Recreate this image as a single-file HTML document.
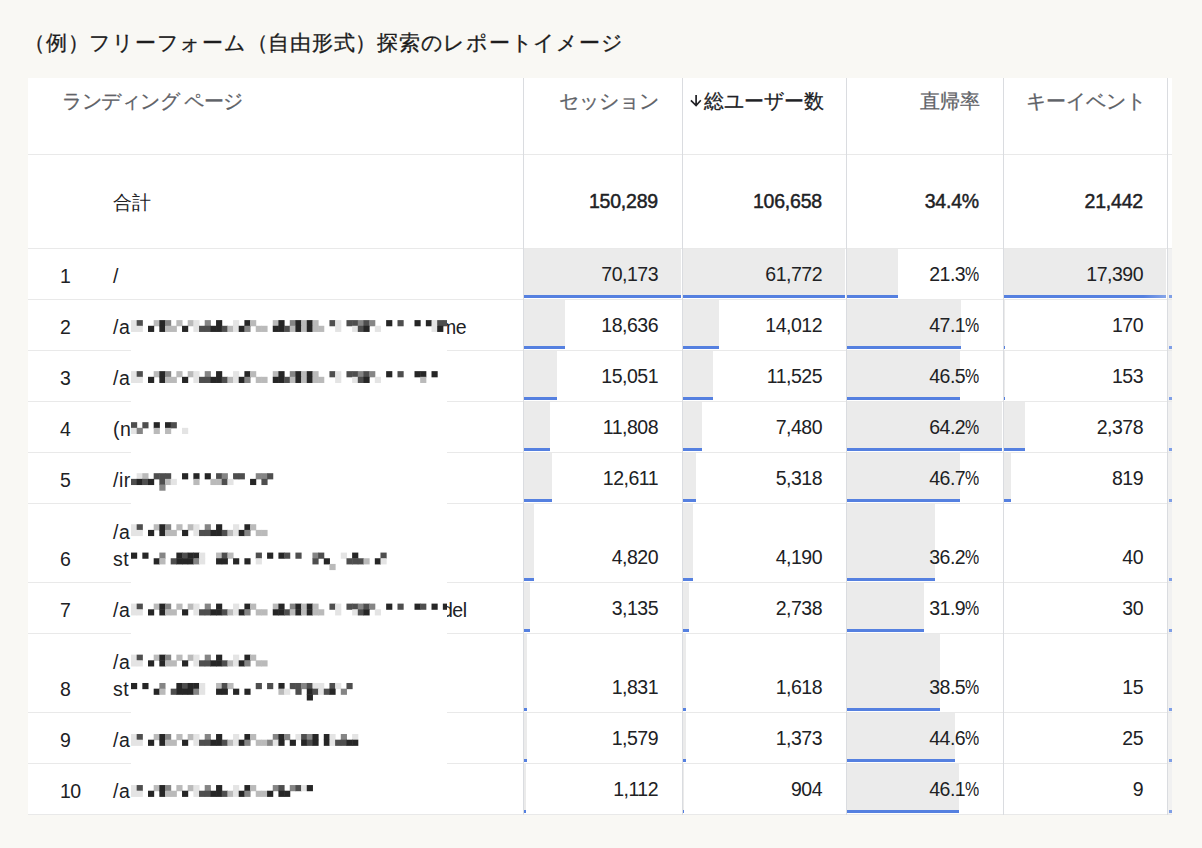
<!DOCTYPE html><html><head><meta charset="utf-8"><style>
html,body{margin:0;padding:0;}
body{width:1202px;height:848px;background:#f9f8f4;position:relative;overflow:hidden;font-family:"Liberation Sans",sans-serif;color:#202124;}
.a{position:absolute;}
.t{position:absolute;white-space:nowrap;line-height:20px;}
.title{left:24px;top:31px;font-size:21px;letter-spacing:0.75px;line-height:24px;color:#1d1d1d;-webkit-text-stroke:0.3px #1d1d1d;}
.tbl{left:28px;top:78px;width:1144px;height:737px;background:#fff;}
.hl{position:absolute;height:1px;background:#e9e9e9;}
.vl{position:absolute;width:1px;background:#dadce0;}
.hd{font-size:20px;color:#5f6368;-webkit-text-stroke:0.25px #5f6368;}
.num{font-size:19.5px;letter-spacing:-0.5px;color:#202124;text-align:right;}
.bold{font-weight:normal;font-size:19.5px;letter-spacing:-0.2px;-webkit-text-stroke:0.45px #202124;}
.bar{position:absolute;background:#ebebeb;}
.blue{position:absolute;background:#5580e0;height:3px;}
</style></head><body>

<div class="t title">（例）フリーフォーム（自由形式）探索のレポートイメージ</div>
<div class="a tbl"></div>
<div class="bar" style="left:524px;top:249px;width:157.0px;height:46px"></div>
<div class="blue" style="left:524px;top:295px;width:157.0px"></div>
<div class="bar" style="left:683px;top:249px;width:162.0px;height:46px"></div>
<div class="blue" style="left:683px;top:295px;width:162.0px"></div>
<div class="bar" style="left:847px;top:249px;width:51.1px;height:46px"></div>
<div class="blue" style="left:847px;top:295px;width:51.1px"></div>
<div class="bar" style="left:1004px;top:249px;width:162.0px;height:46px"></div>
<div class="blue" style="left:1004px;top:295px;width:162.0px;background:linear-gradient(to right,#5580e0 86%,#86a5e8)"></div>
<div class="bar" style="left:524px;top:300px;width:41.2px;height:46px"></div>
<div class="blue" style="left:524px;top:346px;width:41.2px"></div>
<div class="bar" style="left:683px;top:300px;width:36.2px;height:46px"></div>
<div class="blue" style="left:683px;top:346px;width:36.2px"></div>
<div class="bar" style="left:847px;top:300px;width:114.2px;height:46px"></div>
<div class="blue" style="left:847px;top:346px;width:114.2px"></div>
<div class="bar" style="left:1004px;top:300px;width:0.6px;height:46px"></div>
<div class="blue" style="left:1004px;top:346px;width:0.6px"></div>
<div class="bar" style="left:524px;top:351px;width:33.1px;height:46px"></div>
<div class="blue" style="left:524px;top:397px;width:33.1px"></div>
<div class="bar" style="left:683px;top:351px;width:29.6px;height:46px"></div>
<div class="blue" style="left:683px;top:397px;width:29.6px"></div>
<div class="bar" style="left:847px;top:351px;width:112.7px;height:46px"></div>
<div class="blue" style="left:847px;top:397px;width:112.7px"></div>
<div class="bar" style="left:1004px;top:351px;width:0.4px;height:46px"></div>
<div class="blue" style="left:1004px;top:397px;width:0.4px"></div>
<div class="bar" style="left:524px;top:402px;width:25.8px;height:46px"></div>
<div class="blue" style="left:524px;top:448px;width:25.8px"></div>
<div class="bar" style="left:683px;top:402px;width:18.9px;height:46px"></div>
<div class="blue" style="left:683px;top:448px;width:18.9px"></div>
<div class="bar" style="left:847px;top:402px;width:155.0px;height:46px"></div>
<div class="blue" style="left:847px;top:448px;width:155.0px"></div>
<div class="bar" style="left:1004px;top:402px;width:21.4px;height:46px"></div>
<div class="blue" style="left:1004px;top:448px;width:21.4px"></div>
<div class="bar" style="left:524px;top:453px;width:27.6px;height:46px"></div>
<div class="blue" style="left:524px;top:499px;width:27.6px"></div>
<div class="bar" style="left:683px;top:453px;width:13.1px;height:46px"></div>
<div class="blue" style="left:683px;top:499px;width:13.1px"></div>
<div class="bar" style="left:847px;top:453px;width:113.2px;height:46px"></div>
<div class="blue" style="left:847px;top:499px;width:113.2px"></div>
<div class="bar" style="left:1004px;top:453px;width:6.7px;height:46px"></div>
<div class="blue" style="left:1004px;top:499px;width:6.7px"></div>
<div class="bar" style="left:524px;top:504px;width:9.9px;height:74px"></div>
<div class="blue" style="left:524px;top:578px;width:9.9px"></div>
<div class="bar" style="left:683px;top:504px;width:10.1px;height:74px"></div>
<div class="blue" style="left:683px;top:578px;width:10.1px"></div>
<div class="bar" style="left:847px;top:504px;width:87.5px;height:74px"></div>
<div class="blue" style="left:847px;top:578px;width:87.5px"></div>
<div class="bar" style="left:1004px;top:504px;width:-0.6px;height:74px"></div>
<div class="blue" style="left:1004px;top:578px;width:-0.6px"></div>
<div class="bar" style="left:524px;top:583px;width:6.1px;height:46px"></div>
<div class="blue" style="left:524px;top:629px;width:6.1px"></div>
<div class="bar" style="left:683px;top:583px;width:6.3px;height:46px"></div>
<div class="blue" style="left:683px;top:629px;width:6.3px"></div>
<div class="bar" style="left:847px;top:583px;width:77.0px;height:46px"></div>
<div class="blue" style="left:847px;top:629px;width:77.0px"></div>
<div class="bar" style="left:1004px;top:583px;width:-0.7px;height:46px"></div>
<div class="blue" style="left:1004px;top:629px;width:-0.7px"></div>
<div class="bar" style="left:524px;top:634px;width:3.1px;height:74px"></div>
<div class="blue" style="left:524px;top:708px;width:3.1px"></div>
<div class="bar" style="left:683px;top:634px;width:3.3px;height:74px"></div>
<div class="blue" style="left:683px;top:708px;width:3.3px"></div>
<div class="bar" style="left:847px;top:634px;width:93.2px;height:74px"></div>
<div class="blue" style="left:847px;top:708px;width:93.2px"></div>
<div class="bar" style="left:1004px;top:634px;width:-0.9px;height:74px"></div>
<div class="blue" style="left:1004px;top:708px;width:-0.9px"></div>
<div class="bar" style="left:524px;top:713px;width:2.6px;height:46px"></div>
<div class="blue" style="left:524px;top:759px;width:2.6px"></div>
<div class="bar" style="left:683px;top:713px;width:2.6px;height:46px"></div>
<div class="blue" style="left:683px;top:759px;width:2.6px"></div>
<div class="bar" style="left:847px;top:713px;width:108.1px;height:46px"></div>
<div class="blue" style="left:847px;top:759px;width:108.1px"></div>
<div class="bar" style="left:1004px;top:713px;width:-0.8px;height:46px"></div>
<div class="blue" style="left:1004px;top:759px;width:-0.8px"></div>
<div class="bar" style="left:524px;top:764px;width:1.5px;height:46px"></div>
<div class="blue" style="left:524px;top:810px;width:1.5px"></div>
<div class="bar" style="left:683px;top:764px;width:1.4px;height:46px"></div>
<div class="blue" style="left:683px;top:810px;width:1.4px"></div>
<div class="bar" style="left:847px;top:764px;width:111.7px;height:46px"></div>
<div class="blue" style="left:847px;top:810px;width:111.7px"></div>
<div class="bar" style="left:1004px;top:764px;width:-0.9px;height:46px"></div>
<div class="blue" style="left:1004px;top:810px;width:-0.9px"></div>
<div class="a" style="left:1168px;top:248px;width:4px;height:566px;background:#f1f1f1"></div>
<div class="blue" style="left:1169px;top:295px;width:3px;background:#7f9fe6"></div>
<div class="blue" style="left:1169px;top:346px;width:3px;background:#7f9fe6"></div>
<div class="blue" style="left:1169px;top:397px;width:3px;background:#7f9fe6"></div>
<div class="blue" style="left:1169px;top:448px;width:3px;background:#7f9fe6"></div>
<div class="blue" style="left:1169px;top:499px;width:3px;background:#7f9fe6"></div>
<div class="blue" style="left:1169px;top:578px;width:3px;background:#7f9fe6"></div>
<div class="blue" style="left:1169px;top:629px;width:3px;background:#7f9fe6"></div>
<div class="blue" style="left:1169px;top:708px;width:3px;background:#7f9fe6"></div>
<div class="blue" style="left:1169px;top:759px;width:3px;background:#7f9fe6"></div>
<div class="blue" style="left:1169px;top:810px;width:3px;background:#7f9fe6"></div>
<div class="hl" style="left:28px;top:154px;width:1144px"></div>
<div class="hl" style="left:28px;top:248px;width:1144px"></div>
<div class="hl" style="left:28px;top:299px;width:1144px"></div>
<div class="hl" style="left:28px;top:350px;width:1144px"></div>
<div class="hl" style="left:28px;top:401px;width:1144px"></div>
<div class="hl" style="left:28px;top:452px;width:1144px"></div>
<div class="hl" style="left:28px;top:503px;width:1144px"></div>
<div class="hl" style="left:28px;top:582px;width:1144px"></div>
<div class="hl" style="left:28px;top:633px;width:1144px"></div>
<div class="hl" style="left:28px;top:712px;width:1144px"></div>
<div class="hl" style="left:28px;top:763px;width:1144px"></div>
<div class="hl" style="left:28px;top:814px;width:1144px"></div>
<div class="vl" style="left:523px;top:78px;height:737px"></div>
<div class="vl" style="left:682px;top:78px;height:737px"></div>
<div class="vl" style="left:846px;top:78px;height:737px"></div>
<div class="vl" style="left:1003px;top:78px;height:737px"></div>
<div class="vl" style="left:1167px;top:78px;height:737px"></div>
<div class="t hd" style="left:62px;top:91px;letter-spacing:-0.5px">ランディング ページ</div>
<div class="t hd" style="right:543px;top:91px">セッション</div>
<svg class="a" style="left:688px;top:92px" width="16" height="18" viewBox="0 0 16 18"><path d="M8.1 3.1V13.5M2.9 8.3L8.1 13.5L12.8 8.3" fill="none" stroke="#202124" stroke-width="1.7"/></svg>
<div class="t hd" style="left:704px;top:91px;color:#202124;-webkit-text-stroke:0.25px #202124">総ユーザー数</div>
<div class="t hd" style="right:222px;top:91px">直帰率</div>
<div class="t hd" style="right:56px;top:91px">キーイベント</div>
<div class="t" style="left:113px;top:193px;font-size:19px">合計</div>
<div class="t num bold" style="right:544px;top:191px">150,289</div>
<div class="t num bold" style="right:380px;top:191px">106,658</div>
<div class="t num bold" style="right:223px;top:191px">34.4%</div>
<div class="t num bold" style="right:59px;top:191px">21,442</div>
<div class="t num" style="left:60px;top:265.5px;text-align:left">1</div>
<div class="t num" style="left:113px;top:265.5px;text-align:left;letter-spacing:0.5px">/</div>
<div class="t num" style="right:544px;top:263.5px">70,173</div>
<div class="t num" style="right:380px;top:263.5px">61,772</div>
<div class="t num" style="right:223px;top:263.5px">21.3<span style="display:inline-block;transform:scaleX(0.82);transform-origin:100% 50%;margin-left:-3px">%</span></div>
<div class="t num" style="right:59px;top:263.5px">17,390</div>
<div class="t num" style="left:60px;top:316.5px;text-align:left">2</div>
<div class="t num" style="left:113px;top:316.5px;text-align:left;letter-spacing:0.5px">/a</div>
<div class="t num" style="right:544px;top:314.5px">18,636</div>
<div class="t num" style="right:380px;top:314.5px">14,012</div>
<div class="t num" style="right:223px;top:314.5px">47.1<span style="display:inline-block;transform:scaleX(0.82);transform-origin:100% 50%;margin-left:-3px">%</span></div>
<div class="t num" style="right:59px;top:314.5px">170</div>
<div class="t num" style="left:60px;top:367.5px;text-align:left">3</div>
<div class="t num" style="left:113px;top:367.5px;text-align:left;letter-spacing:0.5px">/a</div>
<div class="t num" style="right:544px;top:365.5px">15,051</div>
<div class="t num" style="right:380px;top:365.5px">11,525</div>
<div class="t num" style="right:223px;top:365.5px">46.5<span style="display:inline-block;transform:scaleX(0.82);transform-origin:100% 50%;margin-left:-3px">%</span></div>
<div class="t num" style="right:59px;top:365.5px">153</div>
<div class="t num" style="left:60px;top:418.5px;text-align:left">4</div>
<div class="t num" style="left:113px;top:418.5px;text-align:left;letter-spacing:0.5px">(n</div>
<div class="t num" style="right:544px;top:416.5px">11,808</div>
<div class="t num" style="right:380px;top:416.5px">7,480</div>
<div class="t num" style="right:223px;top:416.5px">64.2<span style="display:inline-block;transform:scaleX(0.82);transform-origin:100% 50%;margin-left:-3px">%</span></div>
<div class="t num" style="right:59px;top:416.5px">2,378</div>
<div class="t num" style="left:60px;top:469.5px;text-align:left">5</div>
<div class="t num" style="left:113px;top:469.5px;text-align:left;letter-spacing:0.5px">/ir</div>
<div class="t num" style="right:544px;top:467.5px">12,611</div>
<div class="t num" style="right:380px;top:467.5px">5,318</div>
<div class="t num" style="right:223px;top:467.5px">46.7<span style="display:inline-block;transform:scaleX(0.82);transform-origin:100% 50%;margin-left:-3px">%</span></div>
<div class="t num" style="right:59px;top:467.5px">819</div>
<div class="t num" style="left:60px;top:548.5px;text-align:left">6</div>
<div class="t num" style="left:113px;top:548.5px;text-align:left;letter-spacing:0.5px">st</div>
<div class="t num" style="right:544px;top:546.5px">4,820</div>
<div class="t num" style="right:380px;top:546.5px">4,190</div>
<div class="t num" style="right:223px;top:546.5px">36.2<span style="display:inline-block;transform:scaleX(0.82);transform-origin:100% 50%;margin-left:-3px">%</span></div>
<div class="t num" style="right:59px;top:546.5px">40</div>
<div class="t num" style="left:60px;top:599.5px;text-align:left">7</div>
<div class="t num" style="left:113px;top:599.5px;text-align:left;letter-spacing:0.5px">/a</div>
<div class="t num" style="right:544px;top:597.5px">3,135</div>
<div class="t num" style="right:380px;top:597.5px">2,738</div>
<div class="t num" style="right:223px;top:597.5px">31.9<span style="display:inline-block;transform:scaleX(0.82);transform-origin:100% 50%;margin-left:-3px">%</span></div>
<div class="t num" style="right:59px;top:597.5px">30</div>
<div class="t num" style="left:60px;top:678.5px;text-align:left">8</div>
<div class="t num" style="left:113px;top:678.5px;text-align:left;letter-spacing:0.5px">st</div>
<div class="t num" style="right:544px;top:676.5px">1,831</div>
<div class="t num" style="right:380px;top:676.5px">1,618</div>
<div class="t num" style="right:223px;top:676.5px">38.5<span style="display:inline-block;transform:scaleX(0.82);transform-origin:100% 50%;margin-left:-3px">%</span></div>
<div class="t num" style="right:59px;top:676.5px">15</div>
<div class="t num" style="left:60px;top:729.5px;text-align:left">9</div>
<div class="t num" style="left:113px;top:729.5px;text-align:left;letter-spacing:0.5px">/a</div>
<div class="t num" style="right:544px;top:727.5px">1,579</div>
<div class="t num" style="right:380px;top:727.5px">1,373</div>
<div class="t num" style="right:223px;top:727.5px">44.6<span style="display:inline-block;transform:scaleX(0.82);transform-origin:100% 50%;margin-left:-3px">%</span></div>
<div class="t num" style="right:59px;top:727.5px">25</div>
<div class="t num" style="left:60px;top:780.5px;text-align:left">10</div>
<div class="t num" style="left:113px;top:780.5px;text-align:left;letter-spacing:0.5px">/a</div>
<div class="t num" style="right:544px;top:778.5px">1,112</div>
<div class="t num" style="right:380px;top:778.5px">904</div>
<div class="t num" style="right:223px;top:778.5px">46.1<span style="display:inline-block;transform:scaleX(0.82);transform-origin:100% 50%;margin-left:-3px">%</span></div>
<div class="t num" style="right:59px;top:778.5px">9</div>
<div class="t num" style="left:113px;top:521.5px;text-align:left;letter-spacing:0.5px">/a</div>
<div class="t num" style="left:113px;top:651.5px;text-align:left;letter-spacing:0.5px">/a</div>
<div class="t num" style="left:440px;top:316.5px;text-align:left">me</div>
<div class="t num" style="left:442px;top:599.5px;text-align:left">del</div>
<svg class="a" style="left:131px;top:301px" width="316" height="512" viewBox="0 0 316 512"><rect width="316" height="512" fill="#fff"/><rect x="0.00" y="19.11" width="6.17" height="6.17" fill="#e4e4e4"/><rect x="5.67" y="19.11" width="6.17" height="6.17" fill="#4e4e4e"/><rect x="22.68" y="19.11" width="6.17" height="6.17" fill="#bababa"/><rect x="28.35" y="19.11" width="6.17" height="6.17" fill="#262626"/><rect x="34.02" y="19.11" width="6.17" height="6.17" fill="#858585"/><rect x="45.36" y="19.11" width="6.17" height="6.17" fill="#bababa"/><rect x="56.70" y="19.11" width="6.17" height="6.17" fill="#bababa"/><rect x="62.37" y="19.11" width="6.17" height="6.17" fill="#e4e4e4"/><rect x="73.71" y="19.11" width="6.17" height="6.17" fill="#858585"/><rect x="85.05" y="19.11" width="6.17" height="6.17" fill="#262626"/><rect x="102.06" y="19.11" width="6.17" height="6.17" fill="#e4e4e4"/><rect x="113.40" y="19.11" width="6.17" height="6.17" fill="#262626"/><rect x="119.07" y="19.11" width="6.17" height="6.17" fill="#bababa"/><rect x="141.75" y="19.11" width="6.17" height="6.17" fill="#bababa"/><rect x="147.42" y="19.11" width="6.17" height="6.17" fill="#262626"/><rect x="158.76" y="19.11" width="6.17" height="6.17" fill="#858585"/><rect x="164.43" y="19.11" width="6.17" height="6.17" fill="#262626"/><rect x="170.10" y="19.11" width="6.17" height="6.17" fill="#bababa"/><rect x="175.77" y="19.11" width="6.17" height="6.17" fill="#262626"/><rect x="181.44" y="19.11" width="6.17" height="6.17" fill="#bababa"/><rect x="198.45" y="19.11" width="6.17" height="6.17" fill="#4e4e4e"/><rect x="204.12" y="19.11" width="6.17" height="6.17" fill="#e4e4e4"/><rect x="215.46" y="19.11" width="6.17" height="6.17" fill="#4e4e4e"/><rect x="221.13" y="19.11" width="6.17" height="6.17" fill="#4e4e4e"/><rect x="226.80" y="19.11" width="6.17" height="6.17" fill="#858585"/><rect x="232.47" y="19.11" width="6.17" height="6.17" fill="#4e4e4e"/><rect x="238.14" y="19.11" width="6.17" height="6.17" fill="#858585"/><rect x="255.15" y="19.11" width="6.17" height="6.17" fill="#262626"/><rect x="266.49" y="19.11" width="6.17" height="6.17" fill="#4e4e4e"/><rect x="283.50" y="19.11" width="6.17" height="6.17" fill="#262626"/><rect x="294.84" y="19.11" width="6.17" height="6.17" fill="#262626"/><rect x="300.51" y="19.11" width="6.17" height="6.17" fill="#e4e4e4"/><rect x="306.18" y="19.11" width="6.17" height="6.17" fill="#4e4e4e"/><rect x="311.85" y="19.11" width="6.17" height="6.17" fill="#4e4e4e"/><rect x="0.00" y="24.78" width="6.17" height="6.17" fill="#e4e4e4"/><rect x="5.67" y="24.78" width="6.17" height="6.17" fill="#e4e4e4"/><rect x="17.01" y="24.78" width="6.17" height="6.17" fill="#262626"/><rect x="28.35" y="24.78" width="6.17" height="6.17" fill="#262626"/><rect x="34.02" y="24.78" width="6.17" height="6.17" fill="#bababa"/><rect x="39.69" y="24.78" width="6.17" height="6.17" fill="#bababa"/><rect x="51.03" y="24.78" width="6.17" height="6.17" fill="#262626"/><rect x="62.37" y="24.78" width="6.17" height="6.17" fill="#e4e4e4"/><rect x="68.04" y="24.78" width="6.17" height="6.17" fill="#4e4e4e"/><rect x="73.71" y="24.78" width="6.17" height="6.17" fill="#4e4e4e"/><rect x="79.38" y="24.78" width="6.17" height="6.17" fill="#262626"/><rect x="85.05" y="24.78" width="6.17" height="6.17" fill="#262626"/><rect x="90.72" y="24.78" width="6.17" height="6.17" fill="#4e4e4e"/><rect x="96.39" y="24.78" width="6.17" height="6.17" fill="#bababa"/><rect x="102.06" y="24.78" width="6.17" height="6.17" fill="#e4e4e4"/><rect x="107.73" y="24.78" width="6.17" height="6.17" fill="#262626"/><rect x="113.40" y="24.78" width="6.17" height="6.17" fill="#858585"/><rect x="124.74" y="24.78" width="6.17" height="6.17" fill="#bababa"/><rect x="130.41" y="24.78" width="6.17" height="6.17" fill="#bababa"/><rect x="141.75" y="24.78" width="6.17" height="6.17" fill="#262626"/><rect x="147.42" y="24.78" width="6.17" height="6.17" fill="#262626"/><rect x="153.09" y="24.78" width="6.17" height="6.17" fill="#4e4e4e"/><rect x="158.76" y="24.78" width="6.17" height="6.17" fill="#bababa"/><rect x="164.43" y="24.78" width="6.17" height="6.17" fill="#262626"/><rect x="170.10" y="24.78" width="6.17" height="6.17" fill="#bababa"/><rect x="175.77" y="24.78" width="6.17" height="6.17" fill="#262626"/><rect x="181.44" y="24.78" width="6.17" height="6.17" fill="#bababa"/><rect x="187.11" y="24.78" width="6.17" height="6.17" fill="#bababa"/><rect x="204.12" y="24.78" width="6.17" height="6.17" fill="#e4e4e4"/><rect x="221.13" y="24.78" width="6.17" height="6.17" fill="#e4e4e4"/><rect x="226.80" y="24.78" width="6.17" height="6.17" fill="#4e4e4e"/><rect x="232.47" y="24.78" width="6.17" height="6.17" fill="#262626"/><rect x="243.81" y="24.78" width="6.17" height="6.17" fill="#e4e4e4"/><rect x="300.51" y="24.78" width="6.17" height="6.17" fill="#e4e4e4"/><rect x="306.18" y="24.78" width="6.17" height="6.17" fill="#262626"/><rect x="0.00" y="70.14" width="6.17" height="6.17" fill="#e4e4e4"/><rect x="5.67" y="70.14" width="6.17" height="6.17" fill="#4e4e4e"/><rect x="22.68" y="70.14" width="6.17" height="6.17" fill="#bababa"/><rect x="28.35" y="70.14" width="6.17" height="6.17" fill="#262626"/><rect x="34.02" y="70.14" width="6.17" height="6.17" fill="#858585"/><rect x="45.36" y="70.14" width="6.17" height="6.17" fill="#bababa"/><rect x="56.70" y="70.14" width="6.17" height="6.17" fill="#bababa"/><rect x="62.37" y="70.14" width="6.17" height="6.17" fill="#e4e4e4"/><rect x="73.71" y="70.14" width="6.17" height="6.17" fill="#858585"/><rect x="85.05" y="70.14" width="6.17" height="6.17" fill="#262626"/><rect x="102.06" y="70.14" width="6.17" height="6.17" fill="#e4e4e4"/><rect x="113.40" y="70.14" width="6.17" height="6.17" fill="#262626"/><rect x="119.07" y="70.14" width="6.17" height="6.17" fill="#bababa"/><rect x="141.75" y="70.14" width="6.17" height="6.17" fill="#bababa"/><rect x="147.42" y="70.14" width="6.17" height="6.17" fill="#262626"/><rect x="158.76" y="70.14" width="6.17" height="6.17" fill="#858585"/><rect x="164.43" y="70.14" width="6.17" height="6.17" fill="#262626"/><rect x="170.10" y="70.14" width="6.17" height="6.17" fill="#bababa"/><rect x="175.77" y="70.14" width="6.17" height="6.17" fill="#262626"/><rect x="181.44" y="70.14" width="6.17" height="6.17" fill="#bababa"/><rect x="198.45" y="70.14" width="6.17" height="6.17" fill="#4e4e4e"/><rect x="204.12" y="70.14" width="6.17" height="6.17" fill="#e4e4e4"/><rect x="215.46" y="70.14" width="6.17" height="6.17" fill="#4e4e4e"/><rect x="221.13" y="70.14" width="6.17" height="6.17" fill="#4e4e4e"/><rect x="226.80" y="70.14" width="6.17" height="6.17" fill="#858585"/><rect x="232.47" y="70.14" width="6.17" height="6.17" fill="#4e4e4e"/><rect x="238.14" y="70.14" width="6.17" height="6.17" fill="#858585"/><rect x="255.15" y="70.14" width="6.17" height="6.17" fill="#262626"/><rect x="266.49" y="70.14" width="6.17" height="6.17" fill="#4e4e4e"/><rect x="283.50" y="70.14" width="6.17" height="6.17" fill="#262626"/><rect x="289.17" y="70.14" width="6.17" height="6.17" fill="#262626"/><rect x="300.51" y="70.14" width="6.17" height="6.17" fill="#262626"/><rect x="0.00" y="75.81" width="6.17" height="6.17" fill="#e4e4e4"/><rect x="5.67" y="75.81" width="6.17" height="6.17" fill="#e4e4e4"/><rect x="17.01" y="75.81" width="6.17" height="6.17" fill="#262626"/><rect x="28.35" y="75.81" width="6.17" height="6.17" fill="#262626"/><rect x="34.02" y="75.81" width="6.17" height="6.17" fill="#bababa"/><rect x="39.69" y="75.81" width="6.17" height="6.17" fill="#bababa"/><rect x="51.03" y="75.81" width="6.17" height="6.17" fill="#262626"/><rect x="62.37" y="75.81" width="6.17" height="6.17" fill="#e4e4e4"/><rect x="68.04" y="75.81" width="6.17" height="6.17" fill="#4e4e4e"/><rect x="73.71" y="75.81" width="6.17" height="6.17" fill="#4e4e4e"/><rect x="79.38" y="75.81" width="6.17" height="6.17" fill="#262626"/><rect x="85.05" y="75.81" width="6.17" height="6.17" fill="#262626"/><rect x="90.72" y="75.81" width="6.17" height="6.17" fill="#4e4e4e"/><rect x="96.39" y="75.81" width="6.17" height="6.17" fill="#bababa"/><rect x="102.06" y="75.81" width="6.17" height="6.17" fill="#e4e4e4"/><rect x="107.73" y="75.81" width="6.17" height="6.17" fill="#262626"/><rect x="113.40" y="75.81" width="6.17" height="6.17" fill="#858585"/><rect x="124.74" y="75.81" width="6.17" height="6.17" fill="#bababa"/><rect x="130.41" y="75.81" width="6.17" height="6.17" fill="#bababa"/><rect x="141.75" y="75.81" width="6.17" height="6.17" fill="#262626"/><rect x="147.42" y="75.81" width="6.17" height="6.17" fill="#262626"/><rect x="153.09" y="75.81" width="6.17" height="6.17" fill="#4e4e4e"/><rect x="158.76" y="75.81" width="6.17" height="6.17" fill="#bababa"/><rect x="164.43" y="75.81" width="6.17" height="6.17" fill="#262626"/><rect x="170.10" y="75.81" width="6.17" height="6.17" fill="#bababa"/><rect x="175.77" y="75.81" width="6.17" height="6.17" fill="#262626"/><rect x="181.44" y="75.81" width="6.17" height="6.17" fill="#bababa"/><rect x="187.11" y="75.81" width="6.17" height="6.17" fill="#bababa"/><rect x="204.12" y="75.81" width="6.17" height="6.17" fill="#e4e4e4"/><rect x="221.13" y="75.81" width="6.17" height="6.17" fill="#e4e4e4"/><rect x="226.80" y="75.81" width="6.17" height="6.17" fill="#4e4e4e"/><rect x="232.47" y="75.81" width="6.17" height="6.17" fill="#262626"/><rect x="243.81" y="75.81" width="6.17" height="6.17" fill="#e4e4e4"/><rect x="289.17" y="75.81" width="6.17" height="6.17" fill="#bababa"/><rect x="0.00" y="121.17" width="6.17" height="6.17" fill="#4e4e4e"/><rect x="11.34" y="121.17" width="6.17" height="6.17" fill="#4e4e4e"/><rect x="22.68" y="121.17" width="6.17" height="6.17" fill="#262626"/><rect x="34.02" y="121.17" width="6.17" height="6.17" fill="#262626"/><rect x="39.69" y="121.17" width="6.17" height="6.17" fill="#4e4e4e"/><rect x="0.00" y="126.84" width="6.17" height="6.17" fill="#e4e4e4"/><rect x="5.67" y="126.84" width="6.17" height="6.17" fill="#858585"/><rect x="22.68" y="126.84" width="6.17" height="6.17" fill="#bababa"/><rect x="34.02" y="126.84" width="6.17" height="6.17" fill="#bababa"/><rect x="51.03" y="126.84" width="6.17" height="6.17" fill="#e4e4e4"/><rect x="5.67" y="172.20" width="6.17" height="6.17" fill="#e4e4e4"/><rect x="11.34" y="172.20" width="6.17" height="6.17" fill="#bababa"/><rect x="22.68" y="172.20" width="6.17" height="6.17" fill="#4e4e4e"/><rect x="28.35" y="172.20" width="6.17" height="6.17" fill="#4e4e4e"/><rect x="34.02" y="172.20" width="6.17" height="6.17" fill="#4e4e4e"/><rect x="51.03" y="172.20" width="6.17" height="6.17" fill="#262626"/><rect x="62.37" y="172.20" width="6.17" height="6.17" fill="#262626"/><rect x="73.71" y="172.20" width="6.17" height="6.17" fill="#262626"/><rect x="85.05" y="172.20" width="6.17" height="6.17" fill="#4e4e4e"/><rect x="90.72" y="172.20" width="6.17" height="6.17" fill="#858585"/><rect x="102.06" y="172.20" width="6.17" height="6.17" fill="#4e4e4e"/><rect x="107.73" y="172.20" width="6.17" height="6.17" fill="#4e4e4e"/><rect x="124.74" y="172.20" width="6.17" height="6.17" fill="#858585"/><rect x="130.41" y="172.20" width="6.17" height="6.17" fill="#858585"/><rect x="136.08" y="172.20" width="6.17" height="6.17" fill="#4e4e4e"/><rect x="0.00" y="177.87" width="6.17" height="6.17" fill="#4e4e4e"/><rect x="5.67" y="177.87" width="6.17" height="6.17" fill="#262626"/><rect x="11.34" y="177.87" width="6.17" height="6.17" fill="#4e4e4e"/><rect x="17.01" y="177.87" width="6.17" height="6.17" fill="#262626"/><rect x="28.35" y="177.87" width="6.17" height="6.17" fill="#4e4e4e"/><rect x="34.02" y="177.87" width="6.17" height="6.17" fill="#bababa"/><rect x="39.69" y="177.87" width="6.17" height="6.17" fill="#e4e4e4"/><rect x="62.37" y="177.87" width="6.17" height="6.17" fill="#bababa"/><rect x="79.38" y="177.87" width="6.17" height="6.17" fill="#bababa"/><rect x="85.05" y="177.87" width="6.17" height="6.17" fill="#bababa"/><rect x="90.72" y="177.87" width="6.17" height="6.17" fill="#4e4e4e"/><rect x="96.39" y="177.87" width="6.17" height="6.17" fill="#e4e4e4"/><rect x="119.07" y="177.87" width="6.17" height="6.17" fill="#262626"/><rect x="130.41" y="177.87" width="6.17" height="6.17" fill="#4e4e4e"/><rect x="28.35" y="183.54" width="6.17" height="6.17" fill="#858585"/><rect x="0.00" y="223.23" width="6.17" height="6.17" fill="#e4e4e4"/><rect x="5.67" y="223.23" width="6.17" height="6.17" fill="#4e4e4e"/><rect x="22.68" y="223.23" width="6.17" height="6.17" fill="#bababa"/><rect x="28.35" y="223.23" width="6.17" height="6.17" fill="#262626"/><rect x="34.02" y="223.23" width="6.17" height="6.17" fill="#858585"/><rect x="45.36" y="223.23" width="6.17" height="6.17" fill="#bababa"/><rect x="56.70" y="223.23" width="6.17" height="6.17" fill="#bababa"/><rect x="62.37" y="223.23" width="6.17" height="6.17" fill="#e4e4e4"/><rect x="73.71" y="223.23" width="6.17" height="6.17" fill="#858585"/><rect x="85.05" y="223.23" width="6.17" height="6.17" fill="#262626"/><rect x="102.06" y="223.23" width="6.17" height="6.17" fill="#e4e4e4"/><rect x="113.40" y="223.23" width="6.17" height="6.17" fill="#262626"/><rect x="119.07" y="223.23" width="6.17" height="6.17" fill="#bababa"/><rect x="0.00" y="228.90" width="6.17" height="6.17" fill="#e4e4e4"/><rect x="5.67" y="228.90" width="6.17" height="6.17" fill="#e4e4e4"/><rect x="17.01" y="228.90" width="6.17" height="6.17" fill="#262626"/><rect x="28.35" y="228.90" width="6.17" height="6.17" fill="#262626"/><rect x="34.02" y="228.90" width="6.17" height="6.17" fill="#bababa"/><rect x="39.69" y="228.90" width="6.17" height="6.17" fill="#bababa"/><rect x="51.03" y="228.90" width="6.17" height="6.17" fill="#262626"/><rect x="62.37" y="228.90" width="6.17" height="6.17" fill="#e4e4e4"/><rect x="68.04" y="228.90" width="6.17" height="6.17" fill="#4e4e4e"/><rect x="73.71" y="228.90" width="6.17" height="6.17" fill="#4e4e4e"/><rect x="79.38" y="228.90" width="6.17" height="6.17" fill="#262626"/><rect x="85.05" y="228.90" width="6.17" height="6.17" fill="#262626"/><rect x="90.72" y="228.90" width="6.17" height="6.17" fill="#4e4e4e"/><rect x="96.39" y="228.90" width="6.17" height="6.17" fill="#bababa"/><rect x="102.06" y="228.90" width="6.17" height="6.17" fill="#e4e4e4"/><rect x="107.73" y="228.90" width="6.17" height="6.17" fill="#262626"/><rect x="113.40" y="228.90" width="6.17" height="6.17" fill="#858585"/><rect x="124.74" y="228.90" width="6.17" height="6.17" fill="#bababa"/><rect x="130.41" y="228.90" width="6.17" height="6.17" fill="#bababa"/><rect x="0.00" y="251.58" width="6.17" height="6.17" fill="#262626"/><rect x="11.34" y="251.58" width="6.17" height="6.17" fill="#262626"/><rect x="28.35" y="251.58" width="6.17" height="6.17" fill="#858585"/><rect x="45.36" y="251.58" width="6.17" height="6.17" fill="#262626"/><rect x="51.03" y="251.58" width="6.17" height="6.17" fill="#4e4e4e"/><rect x="56.70" y="251.58" width="6.17" height="6.17" fill="#262626"/><rect x="62.37" y="251.58" width="6.17" height="6.17" fill="#262626"/><rect x="68.04" y="251.58" width="6.17" height="6.17" fill="#e4e4e4"/><rect x="85.05" y="251.58" width="6.17" height="6.17" fill="#bababa"/><rect x="90.72" y="251.58" width="6.17" height="6.17" fill="#4e4e4e"/><rect x="96.39" y="251.58" width="6.17" height="6.17" fill="#bababa"/><rect x="124.74" y="251.58" width="6.17" height="6.17" fill="#4e4e4e"/><rect x="136.08" y="251.58" width="6.17" height="6.17" fill="#262626"/><rect x="147.42" y="251.58" width="6.17" height="6.17" fill="#262626"/><rect x="153.09" y="251.58" width="6.17" height="6.17" fill="#4e4e4e"/><rect x="164.43" y="251.58" width="6.17" height="6.17" fill="#4e4e4e"/><rect x="181.44" y="251.58" width="6.17" height="6.17" fill="#858585"/><rect x="187.11" y="251.58" width="6.17" height="6.17" fill="#4e4e4e"/><rect x="209.79" y="251.58" width="6.17" height="6.17" fill="#e4e4e4"/><rect x="221.13" y="251.58" width="6.17" height="6.17" fill="#262626"/><rect x="249.48" y="251.58" width="6.17" height="6.17" fill="#4e4e4e"/><rect x="22.68" y="257.25" width="6.17" height="6.17" fill="#262626"/><rect x="28.35" y="257.25" width="6.17" height="6.17" fill="#bababa"/><rect x="39.69" y="257.25" width="6.17" height="6.17" fill="#4e4e4e"/><rect x="45.36" y="257.25" width="6.17" height="6.17" fill="#262626"/><rect x="51.03" y="257.25" width="6.17" height="6.17" fill="#262626"/><rect x="56.70" y="257.25" width="6.17" height="6.17" fill="#262626"/><rect x="62.37" y="257.25" width="6.17" height="6.17" fill="#858585"/><rect x="68.04" y="257.25" width="6.17" height="6.17" fill="#e4e4e4"/><rect x="85.05" y="257.25" width="6.17" height="6.17" fill="#262626"/><rect x="90.72" y="257.25" width="6.17" height="6.17" fill="#262626"/><rect x="102.06" y="257.25" width="6.17" height="6.17" fill="#262626"/><rect x="113.40" y="257.25" width="6.17" height="6.17" fill="#262626"/><rect x="124.74" y="257.25" width="6.17" height="6.17" fill="#e4e4e4"/><rect x="181.44" y="257.25" width="6.17" height="6.17" fill="#4e4e4e"/><rect x="192.78" y="257.25" width="6.17" height="6.17" fill="#262626"/><rect x="215.46" y="257.25" width="6.17" height="6.17" fill="#4e4e4e"/><rect x="221.13" y="257.25" width="6.17" height="6.17" fill="#4e4e4e"/><rect x="226.80" y="257.25" width="6.17" height="6.17" fill="#4e4e4e"/><rect x="232.47" y="257.25" width="6.17" height="6.17" fill="#bababa"/><rect x="243.81" y="257.25" width="6.17" height="6.17" fill="#262626"/><rect x="249.48" y="257.25" width="6.17" height="6.17" fill="#e4e4e4"/><rect x="198.45" y="262.92" width="6.17" height="6.17" fill="#bababa"/><rect x="0.00" y="302.61" width="6.17" height="6.17" fill="#e4e4e4"/><rect x="5.67" y="302.61" width="6.17" height="6.17" fill="#4e4e4e"/><rect x="22.68" y="302.61" width="6.17" height="6.17" fill="#bababa"/><rect x="28.35" y="302.61" width="6.17" height="6.17" fill="#262626"/><rect x="34.02" y="302.61" width="6.17" height="6.17" fill="#858585"/><rect x="45.36" y="302.61" width="6.17" height="6.17" fill="#bababa"/><rect x="56.70" y="302.61" width="6.17" height="6.17" fill="#bababa"/><rect x="62.37" y="302.61" width="6.17" height="6.17" fill="#e4e4e4"/><rect x="73.71" y="302.61" width="6.17" height="6.17" fill="#858585"/><rect x="85.05" y="302.61" width="6.17" height="6.17" fill="#262626"/><rect x="102.06" y="302.61" width="6.17" height="6.17" fill="#e4e4e4"/><rect x="113.40" y="302.61" width="6.17" height="6.17" fill="#262626"/><rect x="119.07" y="302.61" width="6.17" height="6.17" fill="#bababa"/><rect x="141.75" y="302.61" width="6.17" height="6.17" fill="#bababa"/><rect x="147.42" y="302.61" width="6.17" height="6.17" fill="#262626"/><rect x="158.76" y="302.61" width="6.17" height="6.17" fill="#858585"/><rect x="164.43" y="302.61" width="6.17" height="6.17" fill="#262626"/><rect x="170.10" y="302.61" width="6.17" height="6.17" fill="#bababa"/><rect x="175.77" y="302.61" width="6.17" height="6.17" fill="#262626"/><rect x="181.44" y="302.61" width="6.17" height="6.17" fill="#bababa"/><rect x="198.45" y="302.61" width="6.17" height="6.17" fill="#4e4e4e"/><rect x="204.12" y="302.61" width="6.17" height="6.17" fill="#e4e4e4"/><rect x="215.46" y="302.61" width="6.17" height="6.17" fill="#4e4e4e"/><rect x="221.13" y="302.61" width="6.17" height="6.17" fill="#4e4e4e"/><rect x="226.80" y="302.61" width="6.17" height="6.17" fill="#858585"/><rect x="232.47" y="302.61" width="6.17" height="6.17" fill="#4e4e4e"/><rect x="238.14" y="302.61" width="6.17" height="6.17" fill="#858585"/><rect x="255.15" y="302.61" width="6.17" height="6.17" fill="#262626"/><rect x="266.49" y="302.61" width="6.17" height="6.17" fill="#4e4e4e"/><rect x="283.50" y="302.61" width="6.17" height="6.17" fill="#262626"/><rect x="289.17" y="302.61" width="6.17" height="6.17" fill="#4e4e4e"/><rect x="300.51" y="302.61" width="6.17" height="6.17" fill="#262626"/><rect x="311.85" y="302.61" width="6.17" height="6.17" fill="#262626"/><rect x="0.00" y="308.28" width="6.17" height="6.17" fill="#e4e4e4"/><rect x="5.67" y="308.28" width="6.17" height="6.17" fill="#e4e4e4"/><rect x="17.01" y="308.28" width="6.17" height="6.17" fill="#262626"/><rect x="28.35" y="308.28" width="6.17" height="6.17" fill="#262626"/><rect x="34.02" y="308.28" width="6.17" height="6.17" fill="#bababa"/><rect x="39.69" y="308.28" width="6.17" height="6.17" fill="#bababa"/><rect x="51.03" y="308.28" width="6.17" height="6.17" fill="#262626"/><rect x="62.37" y="308.28" width="6.17" height="6.17" fill="#e4e4e4"/><rect x="68.04" y="308.28" width="6.17" height="6.17" fill="#4e4e4e"/><rect x="73.71" y="308.28" width="6.17" height="6.17" fill="#4e4e4e"/><rect x="79.38" y="308.28" width="6.17" height="6.17" fill="#262626"/><rect x="85.05" y="308.28" width="6.17" height="6.17" fill="#262626"/><rect x="90.72" y="308.28" width="6.17" height="6.17" fill="#4e4e4e"/><rect x="96.39" y="308.28" width="6.17" height="6.17" fill="#bababa"/><rect x="102.06" y="308.28" width="6.17" height="6.17" fill="#e4e4e4"/><rect x="107.73" y="308.28" width="6.17" height="6.17" fill="#262626"/><rect x="113.40" y="308.28" width="6.17" height="6.17" fill="#858585"/><rect x="124.74" y="308.28" width="6.17" height="6.17" fill="#bababa"/><rect x="130.41" y="308.28" width="6.17" height="6.17" fill="#bababa"/><rect x="141.75" y="308.28" width="6.17" height="6.17" fill="#262626"/><rect x="147.42" y="308.28" width="6.17" height="6.17" fill="#262626"/><rect x="153.09" y="308.28" width="6.17" height="6.17" fill="#4e4e4e"/><rect x="158.76" y="308.28" width="6.17" height="6.17" fill="#bababa"/><rect x="164.43" y="308.28" width="6.17" height="6.17" fill="#262626"/><rect x="170.10" y="308.28" width="6.17" height="6.17" fill="#bababa"/><rect x="175.77" y="308.28" width="6.17" height="6.17" fill="#262626"/><rect x="181.44" y="308.28" width="6.17" height="6.17" fill="#bababa"/><rect x="187.11" y="308.28" width="6.17" height="6.17" fill="#bababa"/><rect x="204.12" y="308.28" width="6.17" height="6.17" fill="#e4e4e4"/><rect x="221.13" y="308.28" width="6.17" height="6.17" fill="#e4e4e4"/><rect x="226.80" y="308.28" width="6.17" height="6.17" fill="#4e4e4e"/><rect x="232.47" y="308.28" width="6.17" height="6.17" fill="#262626"/><rect x="243.81" y="308.28" width="6.17" height="6.17" fill="#e4e4e4"/><rect x="0.00" y="353.64" width="6.17" height="6.17" fill="#e4e4e4"/><rect x="5.67" y="353.64" width="6.17" height="6.17" fill="#4e4e4e"/><rect x="22.68" y="353.64" width="6.17" height="6.17" fill="#bababa"/><rect x="28.35" y="353.64" width="6.17" height="6.17" fill="#262626"/><rect x="34.02" y="353.64" width="6.17" height="6.17" fill="#858585"/><rect x="45.36" y="353.64" width="6.17" height="6.17" fill="#bababa"/><rect x="56.70" y="353.64" width="6.17" height="6.17" fill="#bababa"/><rect x="62.37" y="353.64" width="6.17" height="6.17" fill="#e4e4e4"/><rect x="73.71" y="353.64" width="6.17" height="6.17" fill="#858585"/><rect x="85.05" y="353.64" width="6.17" height="6.17" fill="#262626"/><rect x="102.06" y="353.64" width="6.17" height="6.17" fill="#e4e4e4"/><rect x="113.40" y="353.64" width="6.17" height="6.17" fill="#262626"/><rect x="119.07" y="353.64" width="6.17" height="6.17" fill="#bababa"/><rect x="0.00" y="359.31" width="6.17" height="6.17" fill="#e4e4e4"/><rect x="5.67" y="359.31" width="6.17" height="6.17" fill="#e4e4e4"/><rect x="17.01" y="359.31" width="6.17" height="6.17" fill="#262626"/><rect x="28.35" y="359.31" width="6.17" height="6.17" fill="#262626"/><rect x="34.02" y="359.31" width="6.17" height="6.17" fill="#bababa"/><rect x="39.69" y="359.31" width="6.17" height="6.17" fill="#bababa"/><rect x="51.03" y="359.31" width="6.17" height="6.17" fill="#262626"/><rect x="62.37" y="359.31" width="6.17" height="6.17" fill="#e4e4e4"/><rect x="68.04" y="359.31" width="6.17" height="6.17" fill="#4e4e4e"/><rect x="73.71" y="359.31" width="6.17" height="6.17" fill="#4e4e4e"/><rect x="79.38" y="359.31" width="6.17" height="6.17" fill="#262626"/><rect x="85.05" y="359.31" width="6.17" height="6.17" fill="#262626"/><rect x="90.72" y="359.31" width="6.17" height="6.17" fill="#4e4e4e"/><rect x="96.39" y="359.31" width="6.17" height="6.17" fill="#bababa"/><rect x="102.06" y="359.31" width="6.17" height="6.17" fill="#e4e4e4"/><rect x="107.73" y="359.31" width="6.17" height="6.17" fill="#262626"/><rect x="113.40" y="359.31" width="6.17" height="6.17" fill="#858585"/><rect x="124.74" y="359.31" width="6.17" height="6.17" fill="#bababa"/><rect x="130.41" y="359.31" width="6.17" height="6.17" fill="#bababa"/><rect x="0.00" y="381.99" width="6.17" height="6.17" fill="#262626"/><rect x="11.34" y="381.99" width="6.17" height="6.17" fill="#262626"/><rect x="28.35" y="381.99" width="6.17" height="6.17" fill="#858585"/><rect x="45.36" y="381.99" width="6.17" height="6.17" fill="#262626"/><rect x="51.03" y="381.99" width="6.17" height="6.17" fill="#4e4e4e"/><rect x="56.70" y="381.99" width="6.17" height="6.17" fill="#262626"/><rect x="62.37" y="381.99" width="6.17" height="6.17" fill="#262626"/><rect x="68.04" y="381.99" width="6.17" height="6.17" fill="#e4e4e4"/><rect x="85.05" y="381.99" width="6.17" height="6.17" fill="#bababa"/><rect x="90.72" y="381.99" width="6.17" height="6.17" fill="#4e4e4e"/><rect x="96.39" y="381.99" width="6.17" height="6.17" fill="#bababa"/><rect x="124.74" y="381.99" width="6.17" height="6.17" fill="#4e4e4e"/><rect x="136.08" y="381.99" width="6.17" height="6.17" fill="#4e4e4e"/><rect x="147.42" y="381.99" width="6.17" height="6.17" fill="#262626"/><rect x="158.76" y="381.99" width="6.17" height="6.17" fill="#4e4e4e"/><rect x="164.43" y="381.99" width="6.17" height="6.17" fill="#4e4e4e"/><rect x="170.10" y="381.99" width="6.17" height="6.17" fill="#858585"/><rect x="175.77" y="381.99" width="6.17" height="6.17" fill="#4e4e4e"/><rect x="181.44" y="381.99" width="6.17" height="6.17" fill="#e4e4e4"/><rect x="187.11" y="381.99" width="6.17" height="6.17" fill="#e4e4e4"/><rect x="198.45" y="381.99" width="6.17" height="6.17" fill="#4e4e4e"/><rect x="204.12" y="381.99" width="6.17" height="6.17" fill="#e4e4e4"/><rect x="215.46" y="381.99" width="6.17" height="6.17" fill="#4e4e4e"/><rect x="22.68" y="387.66" width="6.17" height="6.17" fill="#262626"/><rect x="28.35" y="387.66" width="6.17" height="6.17" fill="#bababa"/><rect x="39.69" y="387.66" width="6.17" height="6.17" fill="#4e4e4e"/><rect x="45.36" y="387.66" width="6.17" height="6.17" fill="#262626"/><rect x="51.03" y="387.66" width="6.17" height="6.17" fill="#262626"/><rect x="56.70" y="387.66" width="6.17" height="6.17" fill="#262626"/><rect x="62.37" y="387.66" width="6.17" height="6.17" fill="#858585"/><rect x="68.04" y="387.66" width="6.17" height="6.17" fill="#e4e4e4"/><rect x="85.05" y="387.66" width="6.17" height="6.17" fill="#262626"/><rect x="90.72" y="387.66" width="6.17" height="6.17" fill="#262626"/><rect x="102.06" y="387.66" width="6.17" height="6.17" fill="#262626"/><rect x="113.40" y="387.66" width="6.17" height="6.17" fill="#262626"/><rect x="147.42" y="387.66" width="6.17" height="6.17" fill="#bababa"/><rect x="153.09" y="387.66" width="6.17" height="6.17" fill="#e4e4e4"/><rect x="164.43" y="387.66" width="6.17" height="6.17" fill="#4e4e4e"/><rect x="175.77" y="387.66" width="6.17" height="6.17" fill="#262626"/><rect x="181.44" y="387.66" width="6.17" height="6.17" fill="#4e4e4e"/><rect x="187.11" y="387.66" width="6.17" height="6.17" fill="#e4e4e4"/><rect x="192.78" y="387.66" width="6.17" height="6.17" fill="#4e4e4e"/><rect x="198.45" y="387.66" width="6.17" height="6.17" fill="#262626"/><rect x="209.79" y="387.66" width="6.17" height="6.17" fill="#858585"/><rect x="175.77" y="393.33" width="6.17" height="6.17" fill="#262626"/><rect x="0.00" y="433.02" width="6.17" height="6.17" fill="#e4e4e4"/><rect x="5.67" y="433.02" width="6.17" height="6.17" fill="#4e4e4e"/><rect x="22.68" y="433.02" width="6.17" height="6.17" fill="#bababa"/><rect x="28.35" y="433.02" width="6.17" height="6.17" fill="#262626"/><rect x="34.02" y="433.02" width="6.17" height="6.17" fill="#858585"/><rect x="45.36" y="433.02" width="6.17" height="6.17" fill="#bababa"/><rect x="56.70" y="433.02" width="6.17" height="6.17" fill="#bababa"/><rect x="62.37" y="433.02" width="6.17" height="6.17" fill="#e4e4e4"/><rect x="73.71" y="433.02" width="6.17" height="6.17" fill="#858585"/><rect x="85.05" y="433.02" width="6.17" height="6.17" fill="#262626"/><rect x="102.06" y="433.02" width="6.17" height="6.17" fill="#e4e4e4"/><rect x="113.40" y="433.02" width="6.17" height="6.17" fill="#262626"/><rect x="119.07" y="433.02" width="6.17" height="6.17" fill="#bababa"/><rect x="141.75" y="433.02" width="6.17" height="6.17" fill="#858585"/><rect x="147.42" y="433.02" width="6.17" height="6.17" fill="#262626"/><rect x="153.09" y="433.02" width="6.17" height="6.17" fill="#858585"/><rect x="164.43" y="433.02" width="6.17" height="6.17" fill="#e4e4e4"/><rect x="170.10" y="433.02" width="6.17" height="6.17" fill="#4e4e4e"/><rect x="175.77" y="433.02" width="6.17" height="6.17" fill="#858585"/><rect x="181.44" y="433.02" width="6.17" height="6.17" fill="#262626"/><rect x="192.78" y="433.02" width="6.17" height="6.17" fill="#262626"/><rect x="198.45" y="433.02" width="6.17" height="6.17" fill="#e4e4e4"/><rect x="209.79" y="433.02" width="6.17" height="6.17" fill="#858585"/><rect x="221.13" y="433.02" width="6.17" height="6.17" fill="#e4e4e4"/><rect x="0.00" y="438.69" width="6.17" height="6.17" fill="#e4e4e4"/><rect x="5.67" y="438.69" width="6.17" height="6.17" fill="#e4e4e4"/><rect x="17.01" y="438.69" width="6.17" height="6.17" fill="#262626"/><rect x="28.35" y="438.69" width="6.17" height="6.17" fill="#262626"/><rect x="34.02" y="438.69" width="6.17" height="6.17" fill="#bababa"/><rect x="39.69" y="438.69" width="6.17" height="6.17" fill="#bababa"/><rect x="51.03" y="438.69" width="6.17" height="6.17" fill="#262626"/><rect x="62.37" y="438.69" width="6.17" height="6.17" fill="#e4e4e4"/><rect x="68.04" y="438.69" width="6.17" height="6.17" fill="#4e4e4e"/><rect x="73.71" y="438.69" width="6.17" height="6.17" fill="#4e4e4e"/><rect x="79.38" y="438.69" width="6.17" height="6.17" fill="#262626"/><rect x="85.05" y="438.69" width="6.17" height="6.17" fill="#262626"/><rect x="90.72" y="438.69" width="6.17" height="6.17" fill="#4e4e4e"/><rect x="96.39" y="438.69" width="6.17" height="6.17" fill="#bababa"/><rect x="102.06" y="438.69" width="6.17" height="6.17" fill="#e4e4e4"/><rect x="107.73" y="438.69" width="6.17" height="6.17" fill="#262626"/><rect x="113.40" y="438.69" width="6.17" height="6.17" fill="#858585"/><rect x="124.74" y="438.69" width="6.17" height="6.17" fill="#bababa"/><rect x="130.41" y="438.69" width="6.17" height="6.17" fill="#bababa"/><rect x="136.08" y="438.69" width="6.17" height="6.17" fill="#858585"/><rect x="141.75" y="438.69" width="6.17" height="6.17" fill="#e4e4e4"/><rect x="147.42" y="438.69" width="6.17" height="6.17" fill="#262626"/><rect x="158.76" y="438.69" width="6.17" height="6.17" fill="#262626"/><rect x="170.10" y="438.69" width="6.17" height="6.17" fill="#262626"/><rect x="175.77" y="438.69" width="6.17" height="6.17" fill="#4e4e4e"/><rect x="181.44" y="438.69" width="6.17" height="6.17" fill="#262626"/><rect x="192.78" y="438.69" width="6.17" height="6.17" fill="#262626"/><rect x="198.45" y="438.69" width="6.17" height="6.17" fill="#e4e4e4"/><rect x="204.12" y="438.69" width="6.17" height="6.17" fill="#4e4e4e"/><rect x="209.79" y="438.69" width="6.17" height="6.17" fill="#4e4e4e"/><rect x="215.46" y="438.69" width="6.17" height="6.17" fill="#262626"/><rect x="221.13" y="438.69" width="6.17" height="6.17" fill="#262626"/><rect x="0.00" y="484.05" width="6.17" height="6.17" fill="#e4e4e4"/><rect x="5.67" y="484.05" width="6.17" height="6.17" fill="#4e4e4e"/><rect x="22.68" y="484.05" width="6.17" height="6.17" fill="#bababa"/><rect x="28.35" y="484.05" width="6.17" height="6.17" fill="#262626"/><rect x="34.02" y="484.05" width="6.17" height="6.17" fill="#858585"/><rect x="45.36" y="484.05" width="6.17" height="6.17" fill="#bababa"/><rect x="56.70" y="484.05" width="6.17" height="6.17" fill="#bababa"/><rect x="62.37" y="484.05" width="6.17" height="6.17" fill="#e4e4e4"/><rect x="73.71" y="484.05" width="6.17" height="6.17" fill="#858585"/><rect x="85.05" y="484.05" width="6.17" height="6.17" fill="#262626"/><rect x="102.06" y="484.05" width="6.17" height="6.17" fill="#e4e4e4"/><rect x="113.40" y="484.05" width="6.17" height="6.17" fill="#262626"/><rect x="119.07" y="484.05" width="6.17" height="6.17" fill="#bababa"/><rect x="141.75" y="484.05" width="6.17" height="6.17" fill="#858585"/><rect x="147.42" y="484.05" width="6.17" height="6.17" fill="#4e4e4e"/><rect x="158.76" y="484.05" width="6.17" height="6.17" fill="#858585"/><rect x="164.43" y="484.05" width="6.17" height="6.17" fill="#4e4e4e"/><rect x="170.10" y="484.05" width="6.17" height="6.17" fill="#e4e4e4"/><rect x="175.77" y="484.05" width="6.17" height="6.17" fill="#262626"/><rect x="0.00" y="489.72" width="6.17" height="6.17" fill="#e4e4e4"/><rect x="5.67" y="489.72" width="6.17" height="6.17" fill="#e4e4e4"/><rect x="17.01" y="489.72" width="6.17" height="6.17" fill="#262626"/><rect x="28.35" y="489.72" width="6.17" height="6.17" fill="#262626"/><rect x="34.02" y="489.72" width="6.17" height="6.17" fill="#bababa"/><rect x="39.69" y="489.72" width="6.17" height="6.17" fill="#bababa"/><rect x="51.03" y="489.72" width="6.17" height="6.17" fill="#262626"/><rect x="62.37" y="489.72" width="6.17" height="6.17" fill="#e4e4e4"/><rect x="68.04" y="489.72" width="6.17" height="6.17" fill="#4e4e4e"/><rect x="73.71" y="489.72" width="6.17" height="6.17" fill="#4e4e4e"/><rect x="79.38" y="489.72" width="6.17" height="6.17" fill="#262626"/><rect x="85.05" y="489.72" width="6.17" height="6.17" fill="#262626"/><rect x="90.72" y="489.72" width="6.17" height="6.17" fill="#4e4e4e"/><rect x="96.39" y="489.72" width="6.17" height="6.17" fill="#bababa"/><rect x="102.06" y="489.72" width="6.17" height="6.17" fill="#e4e4e4"/><rect x="107.73" y="489.72" width="6.17" height="6.17" fill="#262626"/><rect x="113.40" y="489.72" width="6.17" height="6.17" fill="#858585"/><rect x="124.74" y="489.72" width="6.17" height="6.17" fill="#bababa"/><rect x="130.41" y="489.72" width="6.17" height="6.17" fill="#bababa"/><rect x="136.08" y="489.72" width="6.17" height="6.17" fill="#262626"/><rect x="147.42" y="489.72" width="6.17" height="6.17" fill="#262626"/><rect x="153.09" y="489.72" width="6.17" height="6.17" fill="#262626"/></svg>
</body></html>
